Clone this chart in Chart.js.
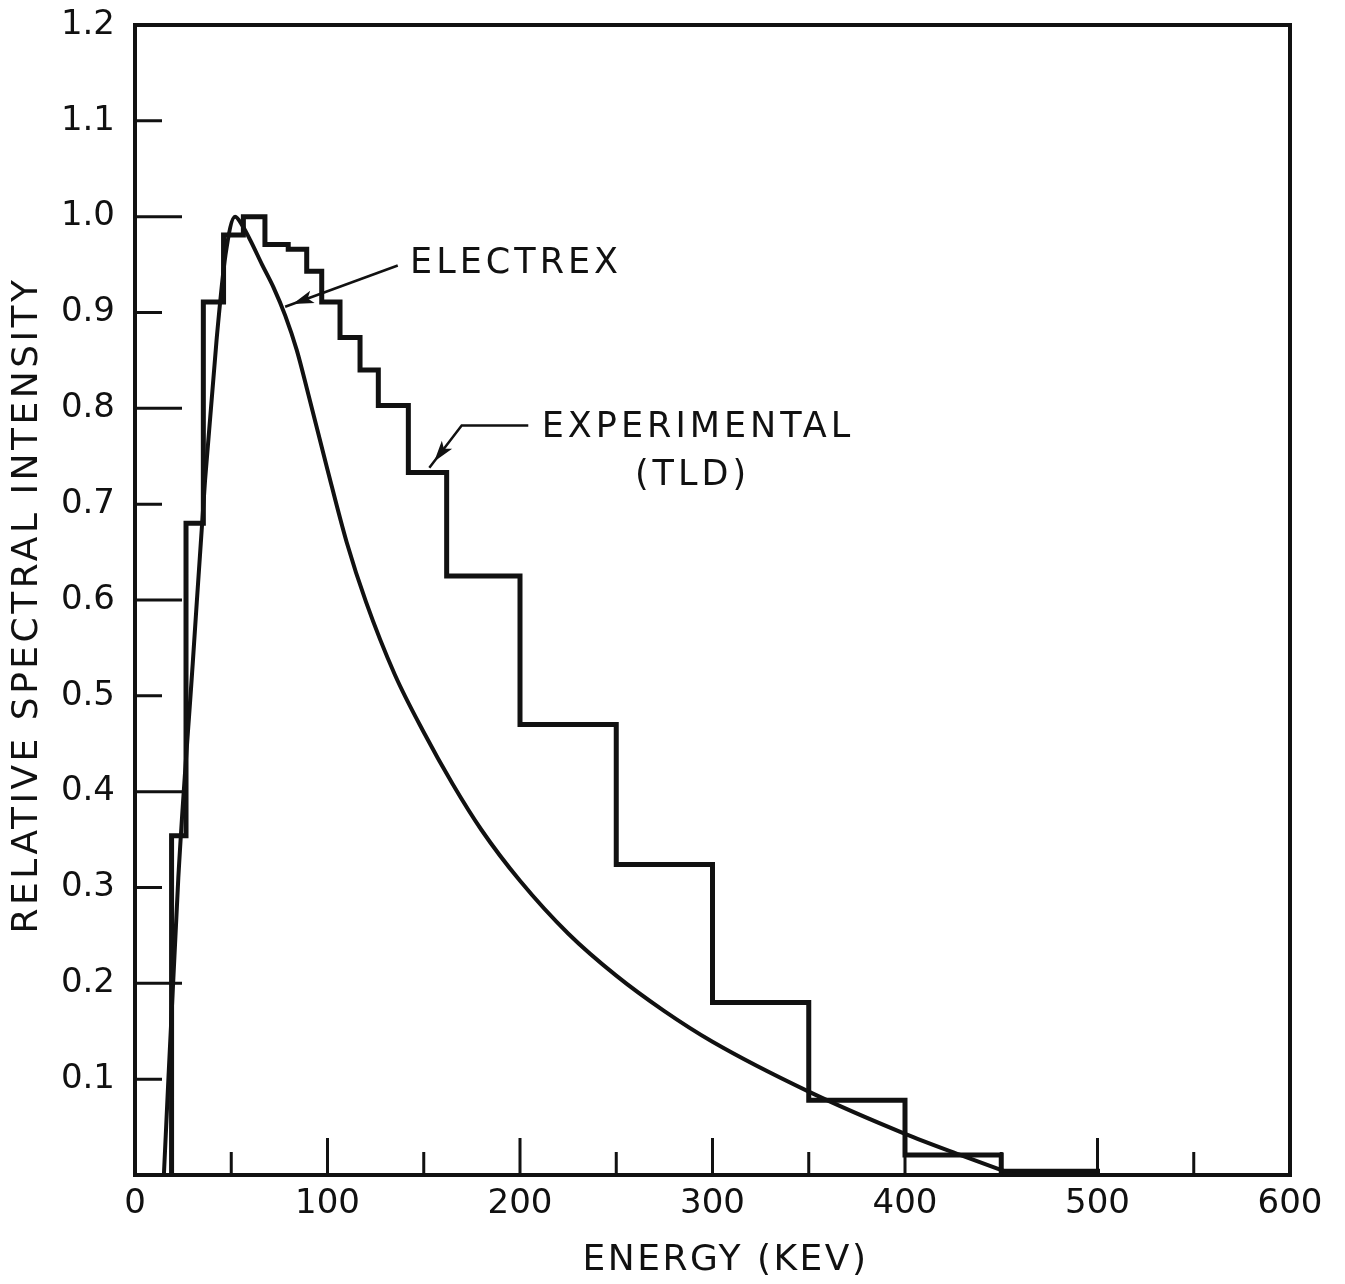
<!DOCTYPE html>
<html>
<head>
<meta charset="utf-8">
<title>Relative spectral intensity vs energy</title>
<script src="https://cdn.jsdelivr.net/npm/chart.js@4.4.1/dist/chart.umd.min.js"></script>
<style>
  html, body { margin: 0; padding: 0; background: #fff; }
  canvas { display: block; }
</style>
</head>
<body>
<canvas id="spectrum" width="1345" height="1284"></canvas>
<script>
// Electrex calculated spectrum
const electrexKev = [15, 22.5, 30, 36.4, 42.4, 47, 52, 56, 60, 66, 72, 78, 84, 90, 100, 110, 120, 135, 150, 165, 180, 200, 225, 250, 275, 300, 350, 400, 430, 457];
const electrexRel = [0, 0.31, 0.534, 0.725, 0.872, 0.96, 1.0, 0.99, 0.975, 0.95, 0.926, 0.897, 0.861, 0.815, 0.736, 0.66, 0.598, 0.522, 0.462, 0.408, 0.36, 0.307, 0.252, 0.208, 0.171, 0.139, 0.087, 0.043, 0.02, 0];

// TLD measurement: bin edges (keV) and one height per bin
const tldEdges = [19, 26.5, 35.5, 46, 56.3, 67.5, 79.6, 89.2, 97, 106.5, 116.9, 126.4, 142, 161.9, 200, 250, 300, 350, 400, 450, 500];
const tldRel = [0.354, 0.68, 0.911, 0.981, 1.0, 0.971, 0.966, 0.943, 0.911, 0.874, 0.84, 0.803, 0.733, 0.625, 0.47, 0.324, 0.18, 0.078, 0.021, 0.004];

const energyTicks = [0, 100, 200, 300, 400, 500, 600];
const energyMarks = [50, 100, 150, 200, 250, 300, 350, 400, 450, 500, 550];
const intensityTicks = [0.1, 0.2, 0.3, 0.4, 0.5, 0.6, 0.7, 0.8, 0.9, 1.0, 1.1, 1.2];

const INK = '#111';
const FONT = '"DejaVu Sans"';

const electrexPoints = electrexKev.map((x, i) => ({ x, y: electrexRel[i] }));
// each bin height starts at its left edge; 'before' holds it until the next edge
const tldPoints = [{ x: tldEdges[0], y: 0 }];
tldRel.forEach((v, i) => tldPoints.push({ x: tldEdges[i], y: v }));
tldPoints.push({ x: tldEdges[tldEdges.length - 1], y: tldRel[tldRel.length - 1] });
tldPoints.push({ x: tldEdges[tldEdges.length - 1], y: 0 });

function text(ctx, str, px, py, size, spacing, align) {
  ctx.font = size + 'px ' + FONT;
  ctx.letterSpacing = spacing + 'px';
  ctx.textAlign = align;
  ctx.textBaseline = 'middle';
  ctx.fillText(str, px, py);
}

function leader(ctx, pts) {
  ctx.beginPath();
  ctx.moveTo(pts[0][0], pts[0][1]);
  pts.slice(1).forEach(p => ctx.lineTo(p[0], p[1]));
  ctx.stroke();
  // filled head a little short of the tip
  const [p, q] = pts.slice(-2);
  const a = Math.atan2(q[1] - p[1], q[0] - p[0]);
  const tx = q[0] - 8 * Math.cos(a), ty = q[1] - 8 * Math.sin(a);
  ctx.beginPath();
  ctx.moveTo(tx, ty);
  ctx.lineTo(tx - 22 * Math.cos(a - 0.3), ty - 22 * Math.sin(a - 0.3));
  ctx.lineTo(tx - 16 * Math.cos(a), ty - 16 * Math.sin(a));
  ctx.lineTo(tx - 22 * Math.cos(a + 0.3), ty - 22 * Math.sin(a + 0.3));
  ctx.closePath();
  ctx.fill();
}

// frame, inside tick marks, axis titles and the two callouts
const frameAndNotes = {
  id: 'frameAndNotes',
  afterDatasetsDraw(chart) {
    const { ctx, chartArea: a, scales: { x, y } } = chart;
    ctx.save();
    ctx.strokeStyle = INK;
    ctx.fillStyle = INK;
    ctx.lineCap = 'square';

    ctx.lineWidth = 4;
    ctx.strokeRect(a.left, a.top, a.right - a.left, a.bottom - a.top);

    ctx.lineWidth = 3;
    ctx.lineCap = 'butt';
    ctx.beginPath();
    intensityTicks.forEach(v => {
      if (v >= 1.2) return;
      const py = y.getPixelForValue(v);
      const len = Math.round(v * 10) % 2 === 0 ? 47 : 27;
      ctx.moveTo(a.left, py);
      ctx.lineTo(a.left + len, py);
    });
    energyMarks.forEach(e => {
      const px = x.getPixelForValue(e);
      const len = e % 100 === 0 ? 37 : 23;
      ctx.moveTo(px, a.bottom);
      ctx.lineTo(px, a.bottom - len);
    });
    ctx.stroke();

    // axis titles
    text(ctx, 'ENERGY (KEV)', (a.left + a.right) / 2 + 13, a.bottom + 86, 36, 2.5, 'center');
    ctx.save();
    ctx.translate(28, (a.top + a.bottom) / 2 + 5);
    ctx.rotate(-Math.PI / 2);
    text(ctx, 'RELATIVE SPECTRAL INTENSITY', 0, 0, 36, 3.5, 'center');
    ctx.restore();

    // callouts, anchored in data units
    const P = (e, r) => [x.getPixelForValue(e), y.getPixelForValue(r)];
    text(ctx, 'ELECTREX', ...P(142.9, 0.951), 35, 4, 'left');
    text(ctx, 'EXPERIMENTAL', ...P(211.3, 0.78), 35, 4, 'left');
    text(ctx, '(TLD)', ...P(289.6, 0.729), 35, 4, 'center');

    ctx.lineWidth = 2.5;
    leader(ctx, [P(136.5, 0.949), P(78, 0.906)]);
    leader(ctx, [P(204.3, 0.782), P(169.7, 0.782), P(152.9, 0.738)]);
    ctx.restore();
  }
};

const tickFont = { family: 'DejaVu Sans', size: 34 };

new Chart(document.getElementById('spectrum'), {
  type: 'line',
  data: {
    datasets: [
      {
        label: 'Electrex',
        data: electrexPoints,
        borderColor: INK,
        borderWidth: 4,
        pointRadius: 0,
        cubicInterpolationMode: 'monotone',
        fill: false,
      },
      {
        label: 'Experimental (TLD)',
        data: tldPoints,
        borderColor: INK,
        borderWidth: 5,
        borderJoinStyle: 'miter',
        pointRadius: 0,
        stepped: 'before',
        fill: false,
      },
    ],
  },
  options: {
    responsive: false,
    animation: false,
    devicePixelRatio: 1,
    layout: { padding: { top: 25, right: 55, left: 0, bottom: 0 } },
    plugins: {
      legend: { display: false },
      tooltip: { enabled: false },
    },
    scales: {
      x: {
        type: 'linear',
        min: 0,
        max: 600,
        afterFit: (s) => { s.height = 109; },
        afterBuildTicks: (s) => { s.ticks = energyTicks.map((value) => ({ value })); },
        grid: { display: false, drawTicks: false },
        border: { display: false },
        ticks: {
          padding: 9,
          color: INK,
          font: tickFont,
          maxRotation: 0,
          autoSkip: false,
          callback: (v) => String(v),
        },
      },
      y: {
        type: 'linear',
        min: 0,
        max: 1.2,
        afterFit: (s) => { s.width = 135; s.paddingTop = 0; s.paddingBottom = 0; },
        afterBuildTicks: (s) => { s.ticks = intensityTicks.map((value) => ({ value })); },
        grid: { display: false, drawTicks: false },
        border: { display: false },
        ticks: {
          padding: 20,
          color: INK,
          font: tickFont,
          autoSkip: false,
          callback: (v) => v.toFixed(1),
        },
      },
    },
  },
  plugins: [frameAndNotes],
});
</script>
</body>
</html>
